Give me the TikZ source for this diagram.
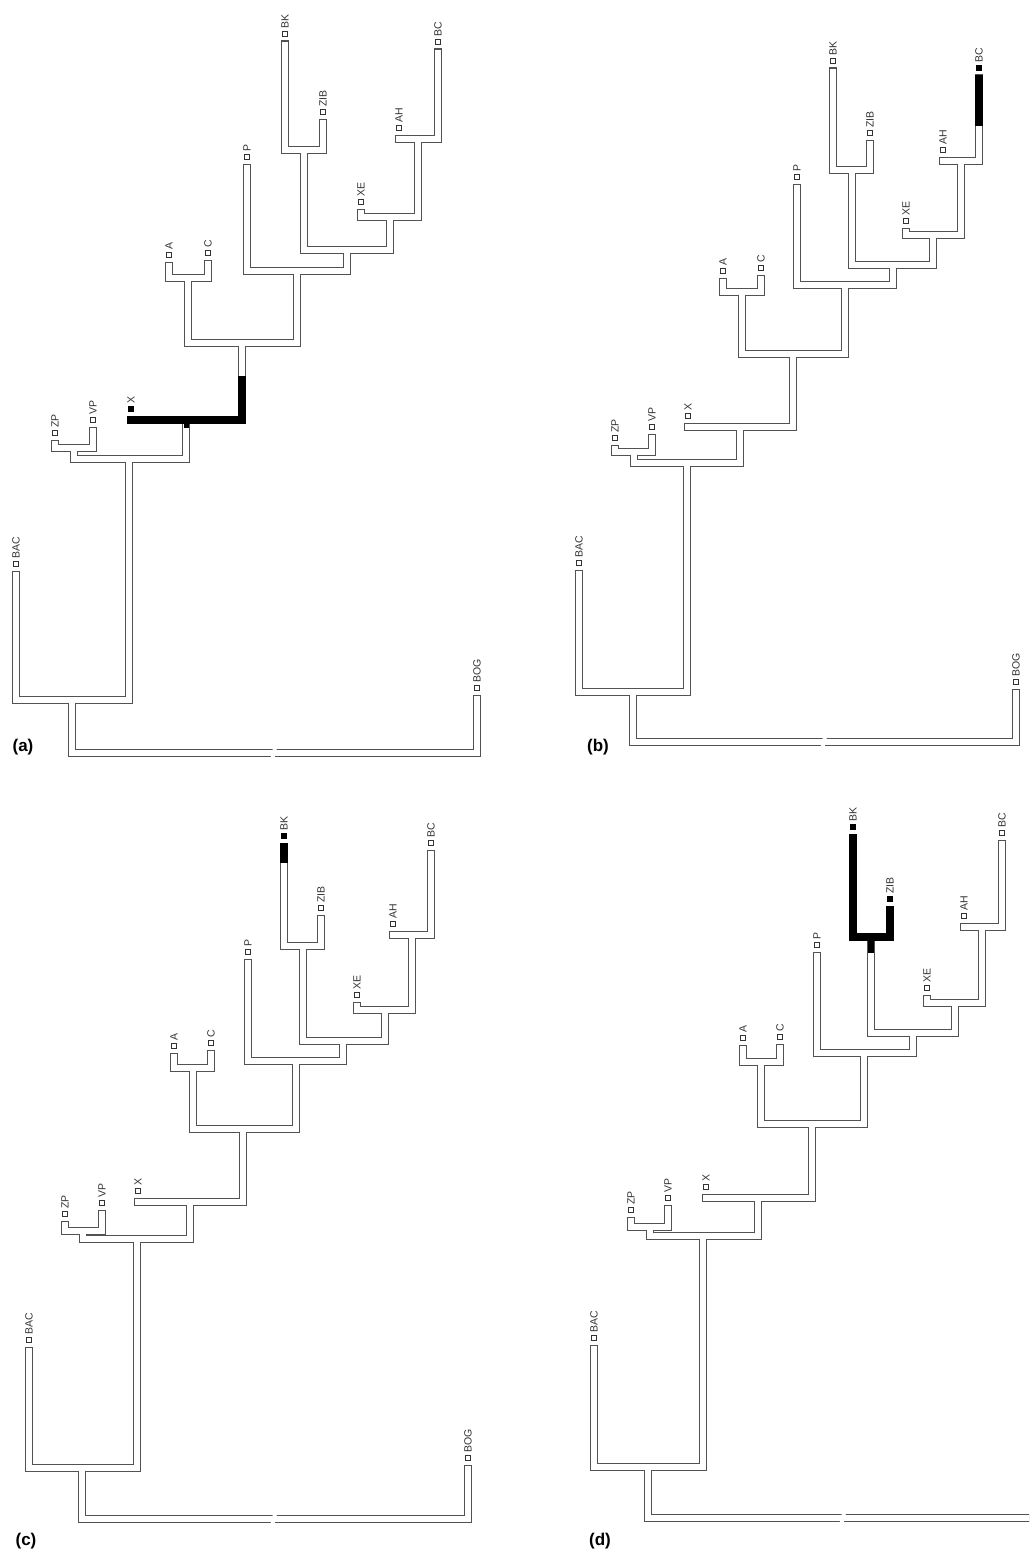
\documentclass[tikz,border=0pt]{standalone}
\usepackage{fontspec}
\setmainfont{Liberation Sans}
\tikzset{
  outerline/.style={line width=8pt, draw=black!68, line cap=rect, line join=miter},
  innerline/.style={line width=5.2pt, draw=white, line cap=rect, line join=miter},
  hl/.style={line width=7.8pt, draw=black, line cap=rect, line join=miter},
  leafbox/.style={draw=black!80, line width=0.9pt, fill=white, minimum size=4.6pt, inner sep=0pt, outer sep=0pt},
  leafon/.style={leafbox, fill=black, draw=black},
  leaflab/.style={rotate=90, anchor=west, inner sep=0pt, font=\fontsize{10.5}{11}\selectfont, text=black!80},
  panellab/.style={font=\fontsize{17}{18}\selectfont\bfseries, inner sep=0pt},
  rootgap/.style={fill=white, draw=none}
}
% leaf: prefix, name, x, y, box style
\newcommand\myleaf[5]{%
  \node[#5] (#1-#2) at (#3,#4) {};
  \node[leaflab] (#1-#2-lab) at (#3,#4-5) {#2};
  \coordinate (#1-#2-t) at (#3,#4+10.5);
}
\newcommand\myjoin[3]{\coordinate (#1-#2) at (#3);}
\newcommand\treepaths[2]{%
  \draw[#2] (#1-BK-t) |- (#1-n1) -| (#1-ZIB-t);
  \draw[#2] (#1-AH-t) |- (#1-n2) -| (#1-BC-t);
  \draw[#2] (#1-XE-t) |- (#1-n3) -| (#1-n2);
  \draw[#2] (#1-n1) |- (#1-n4) -| (#1-n3);
  \draw[#2] (#1-P-t) |- (#1-n5) -| (#1-n4);
  \draw[#2] (#1-A-t) |- (#1-n6) -| (#1-C-t);
  \draw[#2] (#1-n6) |- (#1-n7) -| (#1-n5);
  \draw[#2] (#1-X-t) |- (#1-n8) -| (#1-n7);
  \draw[#2] (#1-ZP-t) |- (#1-n9) -| (#1-VP-t);
  \draw[#2] (#1-n9) |- (#1-n10) -| (#1-n8);
  \draw[#2] (#1-BAC-t) |- (#1-n11) -| (#1-n10);
  \draw[#2] (#1-n11) |- (#1-root) -| (#1-BOG-t);
}
\newcommand\drawtree[1]{%
  \treepaths{#1}{outerline}
  \treepaths{#1}{innerline}
  \fill[rootgap] (#1-root) ++(-3.5,5) -- ++(4,0) -- ++(2.5,-10) -- ++(-4,0) -- cycle;
}
\begin{document}
\begin{tikzpicture}[x=1pt,y=-1pt]
\useasboundingbox (0,0) rectangle (1029,1555);
\clip (0,0) rectangle (1029,1555);
\fill[white] (0,0) rectangle (1029,1555);

% ================= panel (a) =================
\myleaf{a}{BK}{285}{34}{leafbox}
\myleaf{a}{ZIB}{323}{112}{leafbox}
\myleaf{a}{AH}{399}{128}{leafbox}
\myleaf{a}{BC}{438}{42}{leafbox}
\myleaf{a}{XE}{361}{202}{leafbox}
\myleaf{a}{P}{247}{157}{leafbox}
\myleaf{a}{A}{169}{255}{leafbox}
\myleaf{a}{C}{208}{253}{leafbox}
\myleaf{a}{X}{131}{409}{leafon}
\myleaf{a}{ZP}{55}{433}{leafbox}
\myleaf{a}{VP}{93}{420}{leafbox}
\myleaf{a}{BAC}{16}{564}{leafbox}
\myleaf{a}{BOG}{477}{688}{leafbox}
\myjoin{a}{n1}{304,150}
\myjoin{a}{n2}{418,139}
\myjoin{a}{n3}{390,217}
\myjoin{a}{n4}{347,250}
\myjoin{a}{n5}{297,271}
\myjoin{a}{n6}{188,278}
\myjoin{a}{n7}{242,343}
\myjoin{a}{n8}{186,420}
\myjoin{a}{n9}{74,448}
\myjoin{a}{n10}{129,459}
\myjoin{a}{n11}{72,700}
\myjoin{a}{root}{274,753}
\drawtree{a}
\draw[hl] (a-X-t) |- (a-n8) -| (a-n7 |- 0,380);
\draw[hl, line width=5pt, line cap=butt] (a-n8) -- ++(0,7.5);
\node[panellab] (a-lab) at (23,747) {(a)};

% ================= panel (b) =================
\myleaf{b}{BK}{833}{61}{leafbox}
\myleaf{b}{ZIB}{870}{133}{leafbox}
\myleaf{b}{AH}{943}{150}{leafbox}
\myleaf{b}{BC}{979}{68}{leafon}
\myleaf{b}{XE}{906}{221}{leafbox}
\myleaf{b}{P}{797}{177}{leafbox}
\myleaf{b}{A}{723}{271}{leafbox}
\myleaf{b}{C}{761}{268}{leafbox}
\myleaf{b}{X}{688}{416}{leafbox}
\myleaf{b}{ZP}{615}{438}{leafbox}
\myleaf{b}{VP}{652}{427}{leafbox}
\myleaf{b}{BAC}{579}{563}{leafbox}
\myleaf{b}{BOG}{1016}{682}{leafbox}
\myjoin{b}{n1}{852,170}
\myjoin{b}{n2}{961,161}
\myjoin{b}{n3}{933,235}
\myjoin{b}{n4}{893,265}
\myjoin{b}{n5}{845,285}
\myjoin{b}{n6}{742,292}
\myjoin{b}{n7}{793,354}
\myjoin{b}{n8}{740,427}
\myjoin{b}{n9}{634,452}
\myjoin{b}{n10}{687,463}
\myjoin{b}{n11}{633,692}
\myjoin{b}{root}{824,742}
\drawtree{b}
\draw[hl] (b-BC-t) -- (979,122);
\node[panellab] (b-lab) at (598,747) {(b)};

% ================= panel (c) =================
\myleaf{c}{BK}{284}{836}{leafon}
\myleaf{c}{ZIB}{321}{908}{leafbox}
\myleaf{c}{AH}{393}{924}{leafbox}
\myleaf{c}{BC}{431}{843}{leafbox}
\myleaf{c}{XE}{357}{995}{leafbox}
\myleaf{c}{P}{248}{952}{leafbox}
\myleaf{c}{A}{174}{1046}{leafbox}
\myleaf{c}{C}{211}{1043}{leafbox}
\myleaf{c}{X}{138}{1191}{leafbox}
\myleaf{c}{ZP}{65}{1214}{leafbox}
\myleaf{c}{VP}{102}{1203}{leafbox}
\myleaf{c}{BAC}{29}{1340}{leafbox}
\myleaf{c}{BOG}{468}{1458}{leafbox}
\myjoin{c}{n1}{303,946}
\myjoin{c}{n2}{412,935}
\myjoin{c}{n3}{385,1010}
\myjoin{c}{n4}{343,1041}
\myjoin{c}{n5}{296,1061}
\myjoin{c}{n6}{193,1068}
\myjoin{c}{n7}{243,1129}
\myjoin{c}{n8}{190,1202}
\myjoin{c}{n9}{83,1231}
\myjoin{c}{n10}{137,1239}
\myjoin{c}{n11}{82,1468}
\myjoin{c}{root}{274,1519}
\drawtree{c}
\draw[hl] (c-BK-t) -- (284,859);
\node[panellab] (c-lab) at (26,1541) {(c)};

% ================= panel (d) =================
\myleaf{d}{BK}{853}{827}{leafon}
\myleaf{d}{ZIB}{890}{899}{leafon}
\myleaf{d}{AH}{964}{916}{leafbox}
\myleaf{d}{BC}{1002}{833}{leafbox}
\myleaf{d}{XE}{927}{988}{leafbox}
\myleaf{d}{P}{817}{945}{leafbox}
\myleaf{d}{A}{743}{1038}{leafbox}
\myleaf{d}{C}{780}{1037}{leafbox}
\myleaf{d}{X}{706}{1187}{leafbox}
\myleaf{d}{ZP}{631}{1210}{leafbox}
\myleaf{d}{VP}{668}{1198}{leafbox}
\myleaf{d}{BAC}{594}{1338}{leafbox}
\coordinate (d-BOG-t) at (1040,1450);
\myjoin{d}{n1}{871,937}
\myjoin{d}{n2}{982,927}
\myjoin{d}{n3}{955,1003}
\myjoin{d}{n4}{913,1033}
\myjoin{d}{n5}{864,1053}
\myjoin{d}{n6}{761,1062}
\myjoin{d}{n7}{812,1124}
\myjoin{d}{n8}{758,1198}
\myjoin{d}{n9}{650,1227}
\myjoin{d}{n10}{703,1236}
\myjoin{d}{n11}{648,1467}
\myjoin{d}{root}{843,1518}
\drawtree{d}
\draw[hl] (d-BK-t) |- (d-n1) -| (d-ZIB-t);
\draw[hl, line width=6pt, line cap=butt] (d-n1) -- ++(0,16);
\node[panellab] (d-lab) at (600,1541) {(d)};
\end{tikzpicture}
\end{document}
